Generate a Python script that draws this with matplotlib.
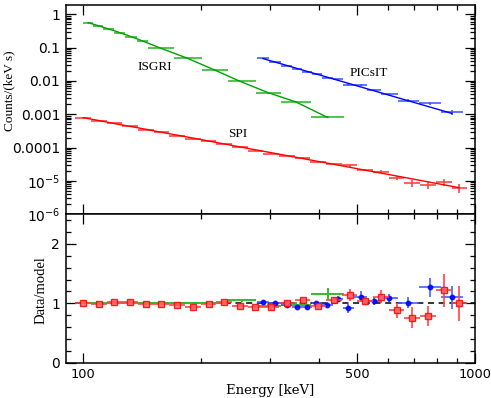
import numpy as np
import matplotlib
matplotlib.use("Agg")
import matplotlib.pyplot as plt
from matplotlib.ticker import FixedLocator, NullFormatter, FuncFormatter, MultipleLocator

# ---------------- data ----------------
# SPI (red)
spi_e = [100, 110, 120, 132, 145, 158, 174, 191, 209, 229, 251, 275, 302, 331,
         363, 398, 437, 479, 525, 575, 631, 692, 759, 832, 912]
spi_lo = [95.5, 104.7, 114.8, 125.9, 138.0, 151.4, 166.0, 182.0, 199.5, 218.8,
          239.9, 263.0, 288.4, 316.2, 346.7, 380.2, 416.9, 457.1, 501.2, 549.5,
          602.6, 660.7, 724.4, 794.3, 871.0]
spi_hi = [104.7, 114.8, 125.9, 138.0, 151.4, 166.0, 182.0, 199.5, 218.8, 239.9,
          263.0, 288.4, 316.2, 346.7, 380.2, 416.9, 457.1, 501.2, 549.5, 602.6,
          660.7, 724.4, 794.3, 871.0, 955.0]
spi_counts = [7.91e-4, 6.40e-4, 5.41e-4, 4.45e-4, 3.48e-4, 2.85e-4, 2.29e-4, 1.79e-4,
              1.56e-4, 1.32e-4, 1.01e-4, 8.02e-5, 6.56e-5, 5.76e-5, 4.95e-5, 3.70e-5,
              3.31e-5, 2.93e-5, 2.18e-5, 1.91e-5, 1.24e-5, 8.74e-6, 7.43e-6, 9.37e-6,
              6.28e-6]
spi_model = [7.91e-4, 6.46e-4, 5.28e-4, 4.32e-4, 3.53e-4, 2.89e-4, 2.36e-4, 1.93e-4,
             1.58e-4, 1.29e-4, 1.05e-4, 8.62e-5, 7.05e-5, 5.76e-5, 4.71e-5, 3.85e-5,
             3.15e-5, 2.57e-5, 2.10e-5, 1.72e-5, 1.41e-5, 1.15e-5, 9.40e-6, 7.68e-6,
             6.28e-6]
spi_ratio = [1.00, 0.99, 1.025, 1.03, 0.986, 0.986, 0.97, 0.93, 0.99, 1.02, 0.96, 0.93,
             0.93, 1.00, 1.05, 0.96, 1.05, 1.14, 1.04, 1.11, 0.88, 0.76, 0.79, 1.22, 1.00]
spi_rerr = [0.015, 0.015, 0.015, 0.018, 0.018, 0.02, 0.02, 0.025, 0.025, 0.025, 0.03,
            0.03, 0.035, 0.035, 0.045, 0.05, 0.06, 0.10, 0.07, 0.11, 0.13, 0.17, 0.17,
            0.28, 0.30]

# PICsIT (blue)
pic_e = [287.8, 308.3, 331.5, 351.6, 372.8, 393.9, 419.4, 446.3, 474.3, 510.2,
         552.6, 602.4, 674.5, 766.1, 873.6]
pic_lo = [278.2, 297.7, 319.4, 341.4, 362.2, 383.2, 406.3, 432.8, 459.8, 491.8,
          530.9, 577.0, 637.7, 718.4, 817.5]
pic_hi = [297.7, 319.4, 341.4, 362.2, 383.2, 406.3, 432.8, 459.8, 491.8, 530.9,
          577.0, 637.7, 718.4, 817.5, 930.2]
pic_counts = [0.0478, 0.0374, 0.0282, 0.0224, 0.0184, 0.0161, 0.0127, 0.0113, 0.0078,
              0.0074, 0.00527, 0.00411, 0.00259, 0.00211, 0.00117]
pic_model = [0.0468, 0.0370, 0.0290, 0.0237, 0.0194, 0.0161, 0.0130, 0.0105, 0.00853,
             0.00665, 0.00507, 0.00377, 0.00256, 0.00166, 0.00106]
pic_ratio = [1.02, 1.01, 0.975, 0.946, 0.946, 1.00, 0.98, 1.08, 0.915, 1.115, 1.04,
             1.09, 1.01, 1.27, 1.10]
pic_rerr = [0.015, 0.02, 0.02, 0.025, 0.025, 0.03, 0.035, 0.05, 0.07, 0.085, 0.06,
            0.07, 0.09, 0.155, 0.20]

# ISGRI (green)
isg_e = [103.0, 109.2, 116.2, 124.1, 132.6, 141.8, 157.9, 184.6, 216.4, 253.8,
         296.7, 349.3, 420.7]
isg_lo = [100.0, 106.1, 112.5, 120.1, 128.1, 137.1, 146.7, 170.1, 200.5, 233.5,
          275.7, 318.8, 382.5]
isg_hi = [106.1, 112.5, 120.1, 128.1, 137.1, 146.7, 170.1, 200.5, 233.5, 275.7,
          318.8, 382.5, 462.4]
isg_counts = [0.560, 0.455, 0.362, 0.281, 0.213, 0.158, 0.0955, 0.0479, 0.0213,
              0.00977, 0.00427, 0.00229, 0.000847]
isg_model = [0.560, 0.455, 0.362, 0.281, 0.213, 0.158, 0.0955, 0.0479, 0.0213,
             0.00930, 0.00445, 0.00234, 0.00080]
isg_ratio = [1.00, 1.00, 1.00, 1.00, 1.00, 1.00, 1.00, 1.00, 1.00, 1.05, 0.96, 0.98, 1.16]
isg_rerr = [0.01, 0.01, 0.01, 0.01, 0.01, 0.01, 0.01, 0.01, 0.015, 0.02, 0.03, 0.04, 0.10]

x_major = [100, 500, 1000]
x_minor = [200, 300, 400, 600, 700, 800, 900]
y_top_labels = {1: "1", 0.1: "0.1", 0.01: "0.01", 0.001: "0.001", 1e-4: "0.0001",
                1e-5: r"$10^{-5}$", 1e-6: r"$10^{-6}$"}

# ---------------- figure ----------------
W, H = 491, 398
fig = plt.figure(figsize=(W / 100, H / 100), dpi=100)
ax1 = fig.add_axes([65.7 / W, 1 - 214.3 / H, (475 - 65.7) / W, (214.3 - 4.7) / H])
ax2 = fig.add_axes([65.7 / W, 1 - 362.7 / H, (475 - 65.7) / W, (362.7 - 214.3) / H],
                   sharex=ax1)

series = [
    (isg_e, isg_lo, isg_hi, isg_counts, isg_model, isg_ratio, isg_rerr, "#00a000", "#33bb33", None),
    (pic_e, pic_lo, pic_hi, pic_counts, pic_model, pic_ratio, pic_rerr, "#0000ff", "#4060ff", "o"),
    (spi_e, spi_lo, spi_hi, spi_counts, spi_model, spi_ratio, spi_rerr, "#ff0000", "#ff4444", "s"),
]

for e, lo, hi, c, m, r, re, col, lcol, mk in series:
    e = np.array(e); lo = np.array(lo); hi = np.array(hi)
    c = np.array(c); r = np.array(r); re = np.array(re)
    xerr = [e - lo, hi - e]
    yerr = c * re / r
    ax1.errorbar(e, c, xerr=xerr, yerr=yerr, fmt="none", ecolor=lcol,
                 elinewidth=1.4, capsize=0, alpha=0.85, zorder=2)
    ax1.plot(e, m, color=col, lw=1.0, zorder=3)

# ratio panel
ax2.hlines(1, spi_lo[0], 1000, colors="k", linestyles=(0, (4, 3)), lw=1.1, zorder=1)
for e, lo, hi, c, m, r, re, col, lcol, mk in series:
    e = np.array(e); lo = np.array(lo); hi = np.array(hi)
    xerr = [e - lo, hi - e]
    if mk is None:
        ax2.errorbar(e, r, xerr=xerr, yerr=re, fmt="none", ecolor=lcol,
                     elinewidth=1.4, capsize=0, zorder=2)
    elif mk == "o":
        ax2.errorbar(e, r, xerr=xerr, yerr=re, fmt="o", ms=3.2, mfc=col, mec=col,
                     ecolor=lcol, elinewidth=1.4, capsize=0, alpha=0.85, zorder=3)
    else:
        ax2.errorbar(e, r, xerr=xerr, yerr=re, fmt="s", ms=3.8, mfc="#ff6666", mec=col,
                     mew=1.0, ecolor=lcol, elinewidth=1.4, capsize=0, alpha=0.85, zorder=4)

for ax in (ax1, ax2):
    ax.set_xscale("log")
    ax.set_xlim(90.2, 1000)
    ax.xaxis.set_major_locator(FixedLocator(x_major))
    ax.xaxis.set_minor_locator(FixedLocator(x_minor))
    ax.xaxis.set_minor_formatter(NullFormatter())
    ax.tick_params(which="both", direction="in", top=True, right=True, width=0.9)
    ax.tick_params(which="major", length=7)
    ax.tick_params(which="minor", length=3.5)
    for s in ax.spines.values():
        s.set_linewidth(1.1)

ax1.set_yscale("log")
ax1.set_ylim(1e-6, 1.94)
ax1.yaxis.set_major_locator(FixedLocator(list(y_top_labels.keys())))
ax1.yaxis.set_major_formatter(FuncFormatter(lambda v, p: y_top_labels.get(v, "")))
ax1.tick_params(axis="x", labelbottom=False)
ax1.tick_params(axis="y", labelsize=10, pad=4)

ax2.set_ylim(0, 2.5)
ax2.yaxis.set_major_locator(FixedLocator([0, 1, 2]))
ax2.yaxis.set_minor_locator(MultipleLocator(0.2))
ax2.xaxis.set_major_formatter(FuncFormatter(lambda v, p: "%d" % v))
ax2.tick_params(axis="y", labelsize=10, pad=4)
ax2.tick_params(axis="x", labelsize=9.3, pad=4)

serif = ["Liberation Serif", "DejaVu Serif"]
ax1.text(152, 0.026, "ISGRI", family=serif, fontsize=9.5, ha="center", va="center")
ax1.text(535, 0.017, "PICsIT", family=serif, fontsize=9.5, ha="center", va="center")
ax1.text(248, 2.5e-4, "SPI", family=serif, fontsize=9.5, ha="center", va="center")

fig.text(9 / W, 1 - 90.8 / H, "Counts/(keV s)", rotation=90, ha="center", va="center",
         family=serif, fontsize=9.5)
fig.text(41 / W, 1 - 290.5 / H, "Data/model", rotation=90, ha="center", va="center",
         family=serif, fontsize=10.5)
fig.text(270 / W, 1 - 390.5 / H, "Energy [keV]", ha="center", va="center",
         family=["DejaVu Serif"], fontsize=9.5)

fig.savefig("out.png", dpi=100)
